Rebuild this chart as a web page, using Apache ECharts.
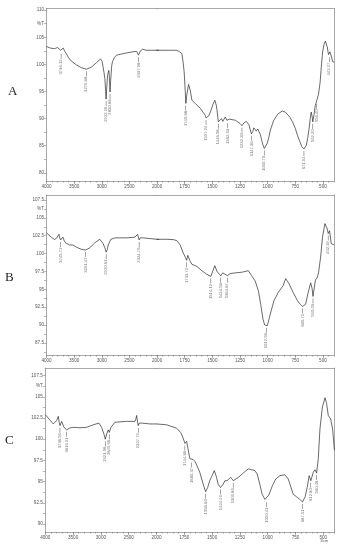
<!DOCTYPE html>
<html><head><meta charset="utf-8">
<script src="https://cdn.jsdelivr.net/npm/echarts@6/dist/echarts.min.js"></script>
<style>html,body{margin:0;padding:0;background:#fff}#c{width:343px;height:550px}</style>
</head><body><div id="c"></div>
<script>
// ---------- DATA ----------
const panelNames = ['A', 'B', 'C'];
const xLabelsLeft = [4000, 3500, 3000, 2500, 2000];
const xLabelsRight = [1750, 1500, 1250, 1000, 750, 500];

const yLabelsA = [80, 85, 90, 95, 100, 105, 110];
const yTicksA = [80, 82.5, 85, 87.5, 90, 92.5, 95, 97.5, 100, 102.5, 105, 107.5, 110];
const yLabelsB = [87.5, 90, 92.5, 95, 97.5, 100, 102.5, 105, 107.5];
const yTicksB = [86.25, 87.5, 88.75, 90, 91.25, 92.5, 93.75, 95, 96.25, 97.5, 98.75, 100, 101.25, 102.5, 103.75, 105, 106.25, 107.5];
const yLabelsC = [90, 92.5, 95, 97.5, 100, 102.5, 105, 107.5];
const yTicksC = [90, 91.25, 92.5, 93.75, 95, 96.25, 97.5, 98.75, 100, 101.25, 102.5, 103.75, 105, 106.25, 107.5];
const unitLabelPos = [107.5, 106.25, 106.25];

// spectra: [wavenumber (1/cm), %T]
const specA = [[4000,103.3],[3930,103.0],[3855,102.9],[3800,103.1],[3775,103.4],[3745,102.6],[3733,102.3],[3715,102.6],[3697,103.0],[3670,102.4],[3642,102.0],[3600,101.2],[3551,100.6],[3460,99.9],[3370,99.4],[3280,99.1],[3188,99.5],[3097,100.3],[3024,101.0],[2995,100.6],[2960,98.5],[2945,97.4],[2930,95.0],[2922,93.6],[2912,95.5],[2895,98.0],[2873,98.9],[2862,97.5],[2851,94.9],[2840,97.0],[2820,99.8],[2806,100.5],[2770,101.3],[2733,101.7],[2650,101.9],[2552,102.1],[2450,102.3],[2370,102.4],[2350,102.3],[2337,101.7],[2325,102.0],[2300,102.5],[2261,102.8],[2200,102.6],[2100,102.6],[2006,102.6],[1900,102.6],[1821,102.6],[1795,102.3],[1776,102.0],[1765,100.5],[1755,98.6],[1745,95.0],[1740,92.8],[1730,94.5],[1715,96.3],[1700,95.2],[1685,93.4],[1655,92.8],[1609,91.9],[1564,90.6],[1557,90.1],[1530,90.6],[1518,91.2],[1495,92.6],[1478,93.4],[1465,92.5],[1458,91.6],[1446,89.4],[1435,89.7],[1418,90.0],[1405,89.5],[1395,89.9],[1383,90.3],[1370,89.7],[1362,89.5],[1345,89.9],[1328,90.1],[1292,89.7],[1250,89.1],[1232,88.7],[1215,89.2],[1193,89.5],[1170,88.9],[1147,87.2],[1135,87.6],[1125,88.3],[1103,87.7],[1090,88.1],[1080,88.0],[1065,87.0],[1054,86.0],[1040,85.0],[1030,84.5],[1015,84.8],[1005,85.4],[990,86.5],[975,87.9],[945,89.7],[905,90.9],[868,91.4],[840,91.2],[822,90.9],[800,90.3],[775,89.4],[750,88.2],[730,86.9],[710,85.8],[690,84.8],[671,84.4],[660,84.6],[650,85.1],[637,86.5],[625,88.2],[615,90.0],[606,91.2],[597,90.3],[592,89.4],[580,90.8],[570,92.4],[563,92.8],[556,93.1],[540,94.5],[525,96.8],[515,99.5],[503,102.3],[490,103.7],[478,104.3],[470,104.0],[461,103.2],[450,101.8],[442,101.7],[437,102.3],[430,102.4],[420,101.2],[412,100.5],[400,100.4]];
const peaksA = [[3736.12,102.3],[3279.88,99.1],[2922.16,93.6],[2850.88,94.9],[2337.58,101.7],[1740.88,92.8],[1557.24,90.1],[1446.58,89.4],[1362.63,89.5],[1232.30,88.7],[1147.36,87.2],[1030.70,84.5],[671.94,84.4],[592.20,89.4],[556.40,93.1],[442.27,101.7]];

const specB = [[4000,102.9],[3915,102.3],[3855,101.96],[3812,102.2],[3776,102.7],[3760,102.2],[3745,101.9],[3720,102.1],[3703,102.3],[3680,101.8],[3655,101.5],[3582,101.2],[3521,101.2],[3460,100.9],[3370,100.6],[3291,100.5],[3218,100.8],[3127,101.5],[3036,102.0],[2976,101.4],[2945,100.8],[2920,100.2],[2900,100.6],[2885,101.2],[2836,102.0],[2764,102.2],[2650,102.2],[2552,102.2],[2400,102.3],[2370,102.5],[2352,102.7],[2335,102.2],[2324,101.9],[2305,102.2],[2291,102.3],[2249,102.2],[2127,102.1],[2006,102.0],[1912,102.0],[1850,101.95],[1821,101.8],[1791,101.2],[1767,100.2],[1745,99.5],[1733,99.05],[1722,99.75],[1705,99.05],[1685,98.5],[1640,98.2],[1595,97.6],[1550,97.1],[1514,96.8],[1500,97.4],[1478,98.3],[1458,97.5],[1424,96.9],[1406,97.3],[1388,97.4],[1364,96.9],[1340,97.2],[1290,97.3],[1229,97.4],[1175,97.6],[1145,96.9],[1114,96.2],[1084,94.8],[1063,92.9],[1042,90.8],[1027,90.0],[1012,89.9],[1003,89.9],[991,90.1],[968,92.0],[943,93.4],[903,94.6],[860,95.5],[837,96.5],[807,95.8],[771,94.6],[730,93.4],[705,92.9],[685,92.6],[670,92.7],[657,92.9],[633,94.6],[611,95.9],[598,95.1],[590,94.0],[578,95.3],[568,96.3],[553,96.6],[540,97.3],[521,99.5],[504,102.3],[482,104.2],[470,104.0],[462,103.5],[452,102.8],[440,103.2],[425,101.4],[407,101.3],[400,101.2]];
const peaksB = [[3745.72,101.9],[3291.47,100.5],[2920.61,100.2],[2324.76,101.9],[1733.72,99.05],[1514.12,96.8],[1424.58,96.9],[1364.87,96.9],[1012.58,89.9],[685.71,92.6],[590.03,94.0],[452.39,102.8]];

const specC = [[4000,102.9],[3928,102.35],[3856,101.8],[3796,102.2],[3766,102.7],[3750,102.0],[3736,101.6],[3720,101.8],[3706,102.1],[3664,101.4],[3616,101.1],[3568,101.3],[3497,101.4],[3377,101.35],[3257,101.4],[3137,101.7],[3035,101.9],[2987,101.4],[2945,100.6],[2921,100.0],[2897,100.6],[2867,101.1],[2849,100.8],[2819,101.4],[2748,102.0],[2537,102.1],[2387,102.1],[2370,102.4],[2357,102.8],[2340,102.0],[2327,101.6],[2310,101.9],[2297,102.1],[2267,101.9],[2117,101.8],[2000,101.8],[1910,101.7],[1819,101.3],[1783,100.8],[1764,100.25],[1744,99.5],[1729,99.75],[1714,98.7],[1700,97.7],[1685,97.5],[1670,97.6],[1650,97.3],[1611,96.1],[1580,94.7],[1558,93.8],[1540,94.3],[1521,95.1],[1500,95.7],[1480,96.3],[1460,95.5],[1446,94.7],[1424,94.3],[1400,94.7],[1385,95.1],[1366,95.1],[1332,95.5],[1309,95.1],[1264,95.5],[1220,96.0],[1175,96.5],[1145,96.4],[1115,96.3],[1095,95.9],[1071,94.7],[1050,93.5],[1025,92.9],[1010,92.8],[990,93.4],[958,94.5],[928,95.3],[890,95.7],[877,95.6],[845,95.8],[815,95.3],[790,94.3],[770,93.5],[740,93.2],[727,93.2],[712,92.9],[687,92.6],[663,93.2],[645,94.3],[627,95.7],[612,95.1],[590,96.1],[575,96.4],[560,96.0],[545,97.7],[530,101.2],[508,103.8],[484,104.9],[470,104.2],[455,102.8],[434,102.4],[416,101.2],[400,98.7]];
const peaksC = [[3736.56,101.6],[3616.91,101.1],[2921.08,100.0],[2849.66,100.8],[2327.79,101.6],[1744.86,99.5],[1685.37,97.5],[1558.60,93.8],[1424.91,94.3],[1309.86,95.1],[1010.41,92.8],[687.51,92.6],[612.80,95.1],[560.48,96.0]];

// ---------- LAYOUT ----------
const panels = [
  {name: panelNames[0], spec: specA, peaks: peaksA, yMin: 78.5, yMax: 110.3, yLabels: yLabelsA, yTicks: yTicksA, unit: unitLabelPos[0], box: {l: 46.5, r: 334, t: 8.5, b: 181}, letter: [13, 93]},
  {name: panelNames[1], spec: specB, peaks: peaksB, yMin: 85.8, yMax: 108.2, yLabels: yLabelsB, yTicks: yTicksB, unit: unitLabelPos[1], box: {l: 46.5, r: 334, t: 195, b: 355}, letter: [10, 279]},
  {name: panelNames[2], spec: specC, peaks: peaksC, yMin: 89.05, yMax: 108.4, yLabels: yLabelsC, yTicks: yTicksC, unit: unitLabelPos[2], box: {l: 45.3, r: 334.4, t: 368, b: 532}, letter: [10, 442]}
];

const axisColor = '#6f6f6f', textColor = '#555', lineColor = '#2a2a2a';
const fs = 4.6;
const grids = [], xAxes = [], yAxes = [], series = [], graphics = [];

function xAxisSet(gi, min, max, minorInterval, labelVals, majorVals) {
  const base = {type: 'value', gridIndex: gi, min: min, max: max, inverse: true, splitLine: {show: false}};
  const idx = xAxes.length;
  xAxes.push(Object.assign({}, base, {position: 'bottom', interval: minorInterval,
    axisLine: {show: true, lineStyle: {color: axisColor, width: 0.6}},
    axisTick: {show: true, length: 1.6, inside: false, lineStyle: {color: axisColor, width: 0.5}},
    axisLabel: {show: true, customValues: labelVals, formatter: v => String(v), fontSize: fs, color: textColor, margin: 3, fontFamily: 'Liberation Sans'}}));
  xAxes.push(Object.assign({}, base, {position: 'bottom',
    axisLine: {show: false}, axisLabel: {show: false},
    axisTick: {show: true, length: 3, customValues: majorVals, lineStyle: {color: axisColor, width: 0.5}}}));
  xAxes.push(Object.assign({}, base, {position: 'top',
    axisLine: {show: true, lineStyle: {color: axisColor, width: 0.6}}, axisTick: {show: false}, axisLabel: {show: false}}));
  return idx;
}

panels.forEach(p => {
  const W = p.box.r - p.box.l, H = p.box.b - p.box.t;
  const wl = W * 4 / 10.4;
  const gL = grids.length;
  grids.push({left: p.box.l, top: p.box.t, width: wl, height: H, show: false});
  grids.push({left: p.box.l + wl, top: p.box.t, width: W - wl, height: H, show: false});

  const yl = yAxes.length;
  yAxes.push({type: 'value', gridIndex: gL, min: p.yMin, max: p.yMax, position: 'left', splitLine: {show: false},
    axisLine: {show: true, lineStyle: {color: axisColor, width: 0.6}},
    axisTick: {show: true, length: 2.5, customValues: p.yTicks, lineStyle: {color: axisColor, width: 0.5}},
    axisLabel: {show: true, customValues: p.yLabels.concat([p.unit]), formatter: v => (v === p.unit ? '%T' : String(v)),
      fontSize: fs, color: textColor, margin: 2.5, fontFamily: 'Liberation Sans'}});
  yAxes.push({type: 'value', gridIndex: gL + 1, min: p.yMin, max: p.yMax, position: 'right', splitLine: {show: false},
    axisLine: {show: true, lineStyle: {color: axisColor, width: 0.6}}, axisTick: {show: false}, axisLabel: {show: false}});

  const xl = xAxisSet(gL, 2000, 4000, 100, xLabelsLeft, xLabelsLeft);
  const xr = xAxisSet(gL + 1, 400, 2000, 50, xLabelsRight, xLabelsRight);

  const leftData = p.spec.filter(d => d[0] >= 1900);
  const rightData = p.spec.filter(d => d[0] <= 2100);
  const lineStyle = {color: lineColor, width: 0.7};
  series.push({type: 'line', xAxisIndex: xl, yAxisIndex: yl, data: leftData, symbol: 'none', lineStyle: lineStyle, clip: true, silent: true, animation: false});
  series.push({type: 'line', xAxisIndex: xr, yAxisIndex: yl + 1, data: rightData, symbol: 'none', lineStyle: lineStyle, clip: true, silent: true, animation: false});

  const peakLabel = {show: true, formatter: q => q.value[0].toFixed(2), position: 'bottom', distance: 0.5, rotate: 90,
    align: 'right', verticalAlign: 'middle', fontSize: 4.2, color: textColor, fontFamily: 'Liberation Sans'};
  const peakBase = {type: 'scatter', symbol: 'rect', symbolSize: [0.6, 5], symbolOffset: [0, 4.5],
    itemStyle: {color: '#444'}, label: peakLabel, silent: true, animation: false, z: 3};
  series.push(Object.assign({}, peakBase, {xAxisIndex: xl, yAxisIndex: yl, data: p.peaks.filter(d => d[0] >= 2000)}));
  series.push(Object.assign({}, peakBase, {xAxisIndex: xr, yAxisIndex: yl + 1, data: p.peaks.filter(d => d[0] < 2000)}));

  graphics.push({type: 'text', left: p.letter[0] - 5, top: p.letter[1] - 8,
    style: {text: p.name, fontSize: 13, fontFamily: 'Liberation Serif', fill: '#222'}});
});

graphics.push({type: 'text', left: 320, top: 539, style: {text: '1/cm', fontSize: 3.8, fontFamily: 'Liberation Sans', fill: textColor}});

const chart = echarts.init(document.getElementById('c'));
chart.setOption({
  animation: false,
  backgroundColor: '#fff',
  grid: grids, xAxis: xAxes, yAxis: yAxes, series: series, graphic: graphics
});
</script></body></html>
